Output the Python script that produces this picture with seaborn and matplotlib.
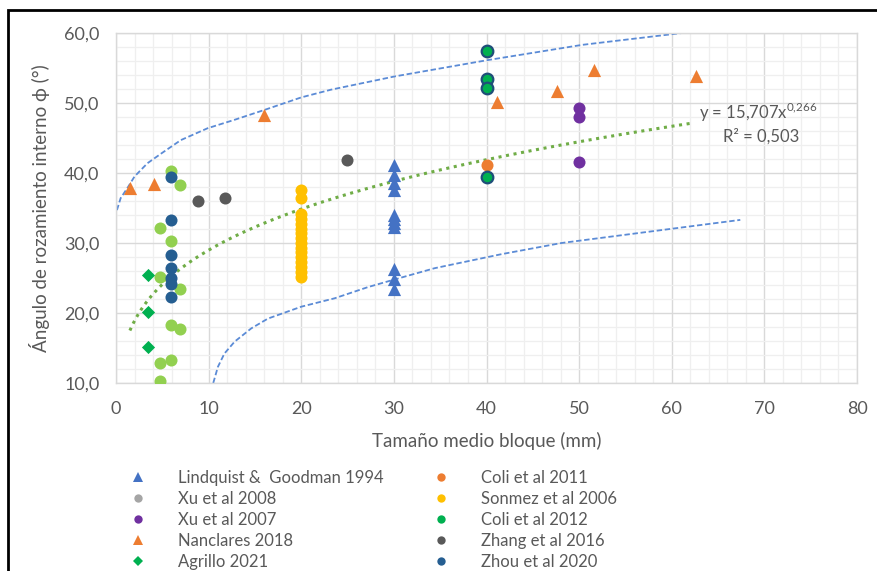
import numpy as np
import matplotlib
matplotlib.use("Agg")
import matplotlib.pyplot as plt
from matplotlib.lines import Line2D
from matplotlib.patches import Rectangle
import seaborn as sns

sns.set_theme(style="white")
plt.rcParams['font.family'] = ['Lato', 'DejaVu Sans']
plt.rcParams['mathtext.fontset'] = 'custom'
plt.rcParams['mathtext.rm'] = 'Lato'

# --- data ---
lind_x = [30] * 11
lind_y = [41.1, 39.7, 38.6, 37.6, 34.0, 33.4, 32.8, 32.3, 26.3, 24.9, 23.5]

nanc_x = [1.5, 4.1, 16.0, 41.1, 47.6, 51.6, 62.6]
nanc_y = [37.8, 38.4, 48.3, 50.1, 51.7, 54.7, 53.9]

coli12_x = [40, 40, 40, 40]
coli12_y = [57.4, 53.4, 52.2, 39.4]

coli11_x = [40]
coli11_y = [41.1]

xu07_x = [50, 50, 50]
xu07_y = [49.3, 48.0, 41.6]

sonmez_x = [20] * 16
sonmez_y = [37.6, 36.4, 34.1, 33.4, 32.7, 32.0, 31.4, 30.7, 30.0, 29.3,
            28.7, 28.0, 27.3, 26.6, 25.9, 25.2]

zhang_x = [8.8, 11.8, 24.9]
zhang_y = [36.0, 36.5, 41.9]

zhou_x = [5.9] * 7
zhou_y = [39.4, 33.3, 28.3, 26.4, 25.0, 24.2, 22.3]

green_x = [5.9, 6.9, 4.8, 5.9, 4.8, 6.9, 5.9, 6.9, 4.8, 5.9, 4.8]
green_y = [40.3, 38.3, 32.1, 30.3, 25.2, 23.4, 18.3, 17.7, 12.8, 13.3, 10.3]

agr_x = [3.5, 3.5, 3.5]
agr_y = [25.4, 20.2, 15.1]

# envelope curves (dashed blue)
upper_x = [0.1, 0.5, 1.3, 2.0, 3.4, 4.9, 7.0, 9.9, 12.8, 16.0, 20.0, 23.2, 30.1, 40.0, 50.3, 61.1]
upper_y = [34.7, 36.4, 38.0, 39.5, 41.4, 42.8, 44.7, 46.4, 47.6, 49.0, 50.8, 51.9, 53.8, 56.1, 58.3, 60.0]
lower_x = [10.5, 11.0, 11.7, 12.8, 14.6, 16.4, 20.0, 23.6, 27.2, 30.1, 34.4, 41.6, 48.1, 67.4]
lower_y = [10.0, 12.3, 14.2, 15.9, 17.8, 19.2, 20.9, 22.1, 23.7, 24.8, 26.4, 28.4, 30.0, 33.3]

# power trendline shown on the chart
trend_a, trend_b = 15.707, 0.266
trend_x0, trend_x1 = 1.5, 62.0

x_ticks = list(range(0, 81, 10))
y_ticks = [10, 20, 30, 40, 50, 60]

BLUE = '#4472C4'
ORANGE = '#ED7D31'
GRAY = '#A5A5A5'
PURPLE = '#7030A0'
GREEN = '#00B050'
YELLOW = '#FFC000'
DGRAY = '#595959'
DBLUE = '#255E91'
LGREEN = '#92D050'
TXT = '#595959'

fig = plt.figure(figsize=(8.78, 5.71), dpi=100)
ax = fig.add_axes([116 / 878, 1 - 383 / 571, 741 / 878, 350 / 571])

# trend / envelope lines
sns.lineplot(x=upper_x, y=upper_y, ax=ax, color='#5B8BD6', linestyle=(0, (3, 1.5)),
             linewidth=1.3, sort=False, estimator=None)
sns.lineplot(x=lower_x, y=lower_y, ax=ax, color='#5B8BD6', linestyle=(0, (3, 1.5)),
             linewidth=1.3, sort=False, estimator=None)
tx = np.linspace(trend_x0, trend_x1, 200)
sns.lineplot(x=tx, y=trend_a * tx ** trend_b, ax=ax, color='#70AD47',
             linestyle=(0, (1, 1.5)), linewidth=2.2, sort=False, estimator=None)

msz = 75
sns.scatterplot(x=sonmez_x, y=sonmez_y, ax=ax, color=YELLOW, s=msz, linewidth=0, zorder=3)
sns.scatterplot(x=green_x, y=green_y, ax=ax, color=LGREEN, s=msz, linewidth=0, zorder=3)
sns.scatterplot(x=zhou_x, y=zhou_y, ax=ax, color=DBLUE, s=msz, linewidth=0, zorder=3)
sns.scatterplot(x=agr_x, y=agr_y, ax=ax, color=GREEN, marker='D', s=45, linewidth=0, zorder=3)
sns.scatterplot(x=zhang_x, y=zhang_y, ax=ax, color=DGRAY, s=msz, linewidth=0, zorder=3)
sns.scatterplot(x=lind_x, y=lind_y, ax=ax, color=BLUE, marker='^', s=90, linewidth=0, zorder=3)
sns.scatterplot(x=nanc_x, y=nanc_y, ax=ax, color=ORANGE, marker='^', s=90, linewidth=0, zorder=3)
sns.scatterplot(x=coli11_x, y=coli11_y, ax=ax, color=ORANGE, s=msz, linewidth=0, zorder=3)
sns.scatterplot(x=coli12_x, y=coli12_y, ax=ax, color=GREEN, s=70, edgecolor='#1F4E79',
                linewidth=1.6, zorder=3)
sns.scatterplot(x=xu07_x, y=xu07_y, ax=ax, color=PURPLE, s=msz, linewidth=0, zorder=3)

ax.set_xlim(0, 80)
ax.set_ylim(10, 60)
ax.set_xticks(x_ticks)
ax.set_yticks(y_ticks)
ax.set_xticks(np.arange(0, 81, 2), minor=True)
ax.set_yticks(np.arange(10, 61, 2), minor=True)
ax.set_yticklabels([f"{v:.1f}".replace('.', ',') for v in y_ticks])
ax.grid(which='major', color='#D9D9D9', linewidth=1.0)
ax.grid(which='minor', color='#EFEFEF', linewidth=0.9)
ax.set_axisbelow(True)
for s in ax.spines.values():
    s.set_color('#D9D9D9')
    s.set_linewidth(1.0)
ax.tick_params(axis='both', which='both', length=0, labelsize=13, colors=TXT)
ax.tick_params(axis='y', pad=12)
ax.tick_params(axis='x', pad=13)

ax.set_xlabel('Tamaño medio bloque (mm)', fontsize=13.5, color=TXT, labelpad=11)
ax.set_ylabel('Ángulo de rozamiento interno ϕ (°)', fontsize=13.5, color=TXT, labelpad=10)

ax.text(62.9, 48.7, r'y = 15,707x$^{0{,}266}$', fontsize=12, color=TXT, ha='left', va='center')
ax.text(69.6, 45.2, 'R² = 0,503', fontsize=12, color=TXT, ha='center', va='center')

def h(marker, color, size=7):
    return Line2D([], [], linestyle='', marker=marker, color=color,
                  markersize=size, markeredgewidth=0)

left_items = [(h('^', BLUE), 'Lindquist &  Goodman 1994'),
              (h('o', GRAY, 6), 'Xu et al 2008'),
              (h('o', PURPLE, 6), 'Xu et al 2007'),
              (h('^', ORANGE), 'Nanclares 2018'),
              (h('D', GREEN, 5.5), 'Agrillo 2021')]
right_items = [(h('o', ORANGE, 6), 'Coli et al 2011'),
               (h('o', YELLOW, 6), 'Sonmez et al 2006'),
               (h('o', GREEN, 6), 'Coli et al 2012'),
               (h('o', DGRAY, 6), 'Zhang et al 2016'),
               (h('o', DBLUE, 6), 'Zhou et al 2020')]

for items, xpos in [(left_items, 128 / 878), (right_items, 431 / 878)]:
    leg = fig.legend([i[0] for i in items], [i[1] for i in items],
                     loc='upper left', bbox_to_anchor=(xpos, 1 - 470 / 571),
                     frameon=False, fontsize=12, labelcolor=TXT,
                     handlelength=1.2, handletextpad=1.8, labelspacing=0.3,
                     borderaxespad=0, borderpad=0)

# outer chart frame (cropped at right and bottom)
fig.patches.append(Rectangle((8 / 878, -0.05), 1.0, 1 - 10 / 571 + 0.05,
                             transform=fig.transFigure, fill=False,
                             edgecolor='black', linewidth=2.0))

fig.savefig('out.png', dpi=100)
